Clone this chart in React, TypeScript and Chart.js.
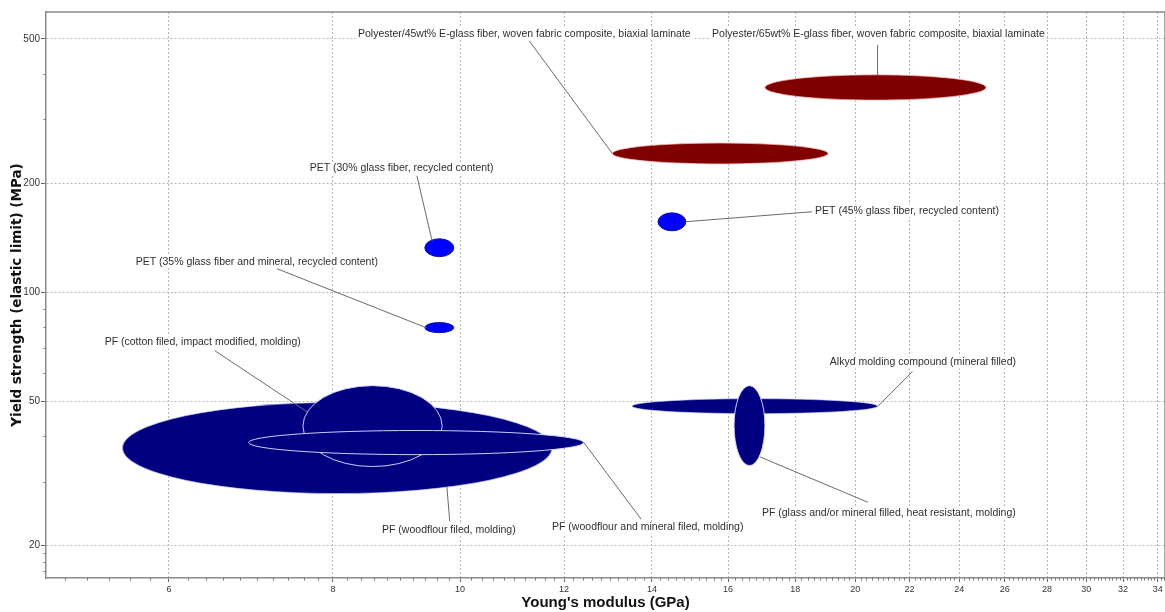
import { useEffect, useRef } from "react";
import { Chart, registerables } from "chart.js";

Chart.register(...registerables);

// ---- data (Young's modulus in GPa, yield strength in MPa) ----
const materials = [
  "Polyester/45wt% E-glass fiber, woven fabric composite, biaxial laminate",
  "Polyester/65wt% E-glass fiber, woven fabric composite, biaxial laminate",
  "PET (30% glass fiber, recycled content)",
  "PET (45% glass fiber, recycled content)",
  "PET (35% glass fiber and mineral, recycled content)",
  "PF (woodflour filed, molding)",
  "PF (cotton filed, impact modified, molding)",
  "PF (woodflour and mineral filed, molding)",
  "Alkyd molding compound (mineral filled)",
  "PF (glass and/or mineral filled, heat resistant, molding)",
];
const modulusMin = [13.06, 17.07, 9.4, 14.15, 9.4, 5.53, 7.59, 6.9, 13.52, 16.17];
const modulusMax = [19.07, 25.16, 9.89, 14.86, 9.89, 11.75, 9.69, 12.42, 20.8, 17.07];
const strengthMin = [226, 339, 125.3, 147.7, 77.3, 27.8, 33.0, 35.6, 46.2, 33.2];
const strengthMax = [258, 398, 140.4, 165.6, 82.4, 49.6, 55.2, 41.5, 50.8, 55.2];
const fillColors = ["#800000", "#800000", "#0000ff", "#0000ff", "#0000ff", "#000080", "#000080", "#000080", "#000080", "#000080"];
const edgeColors = [
  "rgba(255,190,190,0.7)", "rgba(255,190,190,0.7)",
  "#10109a", "#10109a", "#10109a",
  "rgba(200,200,255,0.6)", "rgba(215,215,255,0.95)", "rgba(215,215,255,0.95)",
  "rgba(200,200,255,0.6)", "rgba(215,215,255,0.95)",
];
// label anchor (left edge, vertical middle) and leader lines, in data units
const labelX = [8.36, 15.56, 7.68, 18.64, 5.66, 8.72, 5.36, 11.75, 19.13, 16.98];
const labelY = [516, 516, 220.4, 167.7, 121.4, 22.0, 72.6, 22.4, 63.9, 24.6];
const leaderStartX = [11.29, 20.8, 9.27, 18.54, 7.25, 9.82, 6.5, 13.74, 22.12, 20.45];
const leaderStartY = [493.7, 481.3, 209.5, 166.7, 116.1, 23.3, 69.0, 23.6, 60.4, 26.3];
const leaderEndX = [13.06, 20.8, 9.52, 14.86, 9.42, 9.77, 7.64, 12.42, 20.8, 16.92];
const leaderEndY = [241.5, 397.9, 138.6, 156.5, 79.8, 29.1, 46.8, 38.5, 48.3, 35.1];

// ---- axes ----
const xTicks = [6, 8, 10, 12, 14, 16, 18, 20, 22, 24, 26, 28, 30, 32, 34];
const yTicks = [20, 50, 100, 200, 500];
const yMinorTicks = [17, 18, 19, 30, 40, 60, 70, 80, 90, 300, 400];
const X_MIN = 4.836;
const X_MAX = 34.44;
const Y_MIN = 16.25;
const Y_MAX = 593.5;
const xMinorTicks: number[] = [];
for (let v = 5; v <= 34.4; v += 0.2) xMinorTicks.push(Math.round(v * 10) / 10);

const FONT = "'Liberation Sans', Arial, sans-serif";
const TITLE_FONT = "'DejaVu Sans', Verdana, sans-serif";

const ellipsePlugin = {
  id: "materialEllipses",
  afterDatasetsDraw(chart: any) {
    const { ctx, chartArea } = chart;
    const xs = chart.scales.x;
    const ys = chart.scales.y;
    ctx.save();
    ctx.beginPath();
    ctx.rect(chartArea.left, chartArea.top, chartArea.right - chartArea.left, chartArea.bottom - chartArea.top);
    ctx.clip();
    materials.forEach((_, i) => {
      const x0 = xs.getPixelForValue(modulusMin[i]);
      const x1 = xs.getPixelForValue(modulusMax[i]);
      const y0 = ys.getPixelForValue(strengthMax[i]);
      const y1 = ys.getPixelForValue(strengthMin[i]);
      ctx.beginPath();
      ctx.ellipse((x0 + x1) / 2, (y0 + y1) / 2, (x1 - x0) / 2, (y1 - y0) / 2, 0, 0, Math.PI * 2);
      ctx.fillStyle = fillColors[i];
      ctx.fill();
      ctx.strokeStyle = edgeColors[i];
      ctx.lineWidth = 1;
      ctx.stroke();
    });
    // leader lines
    ctx.strokeStyle = "#6a6a6a";
    ctx.lineWidth = 1;
    materials.forEach((_, i) => {
      ctx.beginPath();
      ctx.moveTo(xs.getPixelForValue(leaderStartX[i]), ys.getPixelForValue(leaderStartY[i]));
      ctx.lineTo(xs.getPixelForValue(leaderEndX[i]), ys.getPixelForValue(leaderEndY[i]));
      ctx.stroke();
    });
    // labels
    ctx.font = `10.5px ${FONT}`;
    ctx.textBaseline = "middle";
    ctx.textAlign = "left";
    materials.forEach((name, i) => {
      const px = xs.getPixelForValue(labelX[i]);
      const py = ys.getPixelForValue(labelY[i]);
      const w = ctx.measureText(name).width;
      ctx.fillStyle = "#ffffff";
      ctx.fillRect(px - 2, py - 6, w + 4, 12);
      ctx.fillStyle = "#2e2e2e";
      ctx.fillText(name, px, py);
    });
    ctx.restore();
  },
  afterDraw(chart: any) {
    const { ctx, chartArea } = chart;
    const xs = chart.scales.x;
    const ys = chart.scales.y;
    ctx.save();
    ctx.strokeStyle = "#8a8a8a";
    ctx.lineWidth = 1.5;
    ctx.beginPath();
    ctx.moveTo(chartArea.left, chartArea.top);
    ctx.lineTo(chartArea.right, chartArea.top);
    ctx.lineTo(chartArea.right, chartArea.bottom);
    ctx.stroke();
    ctx.strokeStyle = "#777";
    ctx.lineWidth = 1;
    ctx.beginPath();
    xMinorTicks.forEach((v) => {
      if (xTicks.includes(v)) return;
      const px = Math.round(xs.getPixelForValue(v)) + 0.5;
      if (px < chartArea.left || px > chartArea.right) return;
      ctx.moveTo(px, chartArea.bottom);
      ctx.lineTo(px, chartArea.bottom + 2.5);
    });
    yMinorTicks.forEach((v) => {
      const py = Math.round(ys.getPixelForValue(v)) + 0.5;
      if (py < chartArea.top || py > chartArea.bottom) return;
      ctx.moveTo(chartArea.left, py);
      ctx.lineTo(chartArea.left - 2.5, py);
    });
    ctx.stroke();
    ctx.restore();
  },
};

export default function App() {
  const canvasRef = useRef<HTMLCanvasElement | null>(null);

  useEffect(() => {
    if (!canvasRef.current) return;
    const chart = new Chart(canvasRef.current, {
      type: "scatter",
      data: {
        datasets: [
          {
            label: "materials",
            data: materials.map((_, i) => ({
              x: Math.sqrt(modulusMin[i] * modulusMax[i]),
              y: Math.sqrt(strengthMin[i] * strengthMax[i]),
            })),
            pointRadius: 0,
            pointHoverRadius: 0,
          },
        ],
      },
      options: {
        responsive: false,
        animation: false,
        devicePixelRatio: 1,
        layout: { padding: { top: 12, right: 15, left: 0, bottom: 0 } },
        plugins: { legend: { display: false }, tooltip: { enabled: false } },
        events: [],
        scales: {
          x: {
            type: "logarithmic",
            position: "bottom",
            min: X_MIN,
            max: X_MAX,
            bounds: "data",
            afterBuildTicks: (scale: any) => {
              scale.ticks = xTicks.map((v) => ({ value: v }));
            },
            afterFit: (scale: any) => {
              scale.height = 34;
            },
            ticks: {
              callback: (v: any) => String(v),
              autoSkip: false,
              maxRotation: 0,
              padding: 2,
              color: "#333",
              font: { family: FONT, size: 9 },
            },
            grid: {
              color: "#b4b4b4",
              lineWidth: 1,
              drawTicks: true,
              tickLength: 4,
              tickColor: "#666",
              tickBorderDash: [],
            },
            border: { display: true, color: "#8a8a8a", width: 1.5, dash: [2, 2] },
            title: {
              display: true,
              text: "Young's modulus (GPa)",
              color: "#111",
              font: { family: FONT, size: 15, weight: "bold" },
              padding: { top: 0, bottom: 0 },
            },
          },
          y: {
            type: "logarithmic",
            position: "left",
            min: Y_MIN,
            max: Y_MAX,
            bounds: "data",
            afterBuildTicks: (scale: any) => {
              scale.ticks = yTicks.map((v) => ({ value: v }));
            },
            afterFit: (scale: any) => {
              scale.width = 46;
            },
            ticks: {
              callback: (v: any) => String(v),
              autoSkip: false,
              padding: 1,
              color: "#333",
              font: { family: FONT, size: 10 },
            },
            grid: {
              color: "#b4b4b4",
              lineWidth: 1,
              drawTicks: true,
              tickLength: 5,
              tickColor: "#666",
              tickBorderDash: [],
            },
            border: { display: true, color: "#8a8a8a", width: 1.5, dash: [2, 2] },
            title: {
              display: true,
              text: "Yield strength (elastic limit) (MPa)",
              color: "#111",
              font: { family: TITLE_FONT, size: 13.5, weight: "bold" },
              padding: { top: 9, bottom: 0 },
            },
          },
        },
      },
      plugins: [ellipsePlugin],
    } as any);
    return () => chart.destroy();
  }, []);

  return (
    <div
      style={{
        position: "fixed",
        left: 0,
        top: 0,
        width: 1165,
        height: 612,
        overflow: "hidden",
        background: "#fff",
      }}
    >
      <canvas ref={canvasRef} width={1180} height={612} style={{ display: "block" }} />
    </div>
  );
}
